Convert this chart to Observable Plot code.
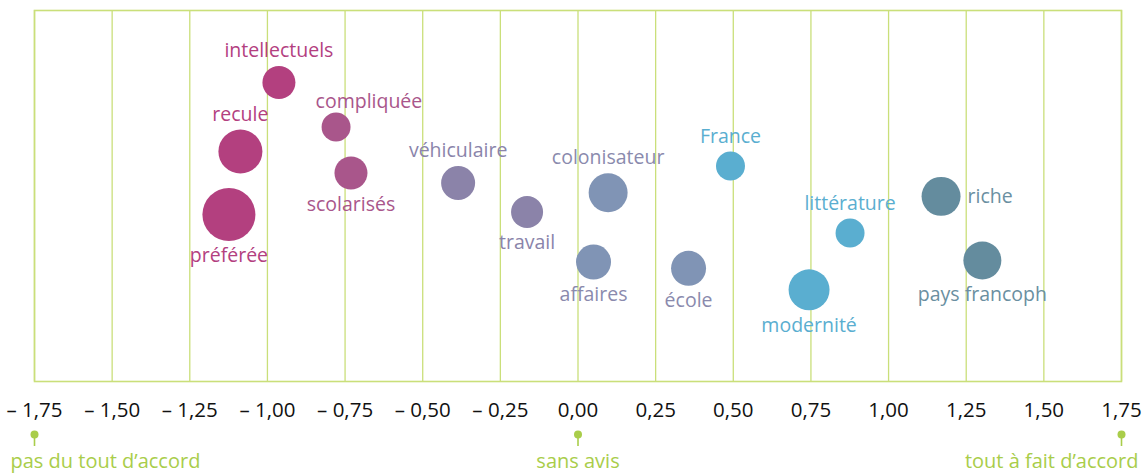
<!DOCTYPE html>
<html><head><meta charset="utf-8">
<script src="https://cdn.jsdelivr.net/npm/d3@7"></script>
<script src="https://cdn.jsdelivr.net/npm/@observablehq/plot@0.6"></script>
<style>body{margin:0;background:#fff}</style>
</head><body><div id="chart"></div>
<script>
// ---- data ----
const words = ["intellectuels","compliquée","recule","scolarisés","préférée","véhiculaire","travail","colonisateur","affaires","école","France","littérature","modernité","riche","pays francoph"];
const agreement = [-0.963,-0.779,-1.087,-0.731,-1.124,-0.386,-0.164,0.097,0.050,0.356,0.491,0.876,0.744,1.169,1.302];
const position = [8.06,6.86,6.20,5.62,4.50,5.35,4.57,5.09,3.22,3.05,5.81,4.00,2.47,4.99,3.26];
const frequency = [38.8,29.9,68.9,38.8,100,41.2,36.5,54.1,43.6,43.6,29.9,29.9,59.8,54.1,51.4];
const group = ["A","B","A","B","A","C","C","D","D","D","E","E","E","F","F"];
const tickValues = [-1.75,-1.5,-1.25,-1,-0.75,-0.5,-0.25,0,0.25,0.5,0.75,1,1.25,1.5,1.75];
const anchorValues = [-1.75, 0, 1.75];
const anchorLabels = ["pas du tout d’accord","sans avis","tout à fait d’accord"];

// ---- styles ----
const fillColor = {A:"#b3407f",B:"#a9568b",C:"#8b83a9",D:"#8094b5",E:"#5aaed0",F:"#648c9e"};
const textColor = {A:"#b3407f",B:"#a9568b",C:"#8a84aa",D:"#8a8aad",E:"#5aaed0",F:"#6a8fa1"};
const labelSide = {"compliquée":"aboveStart","scolarisés":"below","préférée":"below","travail":"below","affaires":"below","école":"below","modernité":"below","pays francoph":"below","riche":"right"};
const gridColor = "#cadf7a";
const accent = "#a9cd4a";
const font = "'Open Sans', sans-serif";

const W = 1145, H = 475, mT = 10, mB = 94, mL = 34, mR = 24;
const xOpt = {domain:[-1.75,1.75], range:[mL, W - mR]};
const yOpt = {domain:[0,10], range:[H - mB, mT]};
const rOpt = {type:"sqrt", domain:[0,100], range:[0,26.5]};
const xS = Plot.scale({x: xOpt}), yS = Plot.scale({y: yOpt}), rS = Plot.scale({r: rOpt});

const rows = words.map((w,i) => {
  const r = rS.apply(frequency[i]);
  const px = xS.apply(agreement[i]), py = yS.apply(position[i]);
  const side = labelSide[w] || "above";
  let lx = px, ly = py, anchor = "middle";
  if (side === "above") ly = py - r - 15;
  else if (side === "below") ly = py + r + 15;
  else if (side === "right") { lx = px + r + 7; anchor = "start"; }
  else if (side === "aboveStart") { ly = py - r - 11; lx = px - r - 6; anchor = "start"; }
  return {word:w, x:agreement[i], y:position[i], f:frequency[i], g:group[i], lx:xS.invert(lx), ly:yS.invert(ly), anchor};
});

const fmt = d => { const s = Math.abs(d).toFixed(2).replace(".", ","); return d < 0 ? "– " + s : s; };

const chart = Plot.plot({
  width: W, height: H,
  marginTop: mT, marginBottom: mB, marginLeft: mL, marginRight: mR,
  style: {fontFamily: font, fontSize: "20.5px", color: "#111", background: "#fff"},
  x: {...xOpt, ticks: tickValues, tickSize: 0, tickPadding: 21, tickFormat: fmt, label: null},
  y: {...yOpt, axis: null},
  r: rOpt,
  color: {type: "identity"},
  marks: [
    Plot.ruleX(tickValues, {x: d => d, stroke: gridColor, strokeWidth: 1.3}),
    Plot.frame({stroke: gridColor, strokeWidth: 1.6}),
    Plot.text(rows.filter(d => d.anchor === "middle"), {x:"lx", y:"ly", text:"word", fill: d => textColor[d.g], textAnchor:"middle", fontSize: 19.5, fontFamily: font}),
    Plot.text(rows.filter(d => d.anchor === "start"), {x:"lx", y:"ly", text:"word", fill: d => textColor[d.g], textAnchor:"start", fontSize: 19.5, fontFamily: font}),
    Plot.dot(rows, {x:"x", y:"y", r:"f", fill: d => fillColor[d.g], stroke: null}),
    Plot.ruleX(anchorValues, {x: d => d, insetTop: H - mB - mT - 12, dy: 65, stroke: accent, strokeWidth: 1.6}),
    Plot.dot(anchorValues, {x: d => d, frameAnchor: "bottom", dy: 53, r: 4, fill: accent}),
    Plot.text([0], {x: () => anchorValues[0], text: () => anchorLabels[0], frameAnchor: "bottom", dy: 86, dx: -24, textAnchor: "start", fill: accent, fontSize: 20, fontFamily: font}),
    Plot.text([0], {x: () => anchorValues[1], text: () => anchorLabels[1], frameAnchor: "bottom", dy: 86, textAnchor: "middle", fill: accent, fontSize: 20, fontFamily: font}),
    Plot.text([0], {x: () => anchorValues[2], text: () => anchorLabels[2], frameAnchor: "bottom", dy: 86, dx: 17, textAnchor: "end", fill: accent, fontSize: 20, fontFamily: font})
  ]
});
document.getElementById("chart").appendChild(chart);
</script>
</body></html>
